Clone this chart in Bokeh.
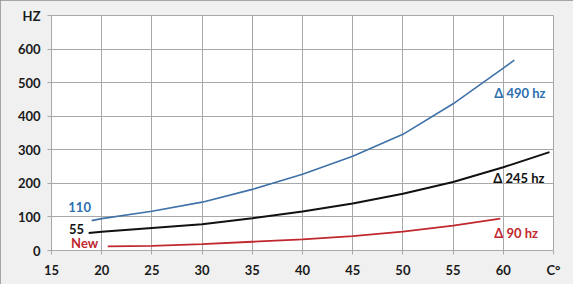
from bokeh.plotting import figure
from bokeh.models import FixedTicker, ColumnDataSource
from bokeh.core.properties import value
from bokeh.embed import file_html
from bokeh.resources import INLINE

# Data
blue_x = [19.0, 20, 25, 30, 35, 40, 45, 50, 55, 60, 61.1]
blue_y = [89, 95, 117, 144, 182, 227, 281, 346, 437, 543, 567]
black_x = [18.7, 20, 25, 30, 35, 40, 45, 50, 55, 60, 64.6]
black_y = [52, 56, 67, 78, 96, 116, 140, 169, 204, 248, 293]
red_x = [20.6, 25, 30, 35, 40, 45, 50, 55, 59.7]
red_y = [12, 14, 19, 26, 33, 43, 56, 74, 95]

x_ticks = [15, 20, 25, 30, 35, 40, 45, 50, 55, 60, 65]
y_ticks = [0, 100, 200, 300, 400, 500, 600, 700]
x_unit_label = "C°"
y_unit_label = "HZ"

series_labels = ["110", "55", "New"]
delta_labels = ["Δ 490 hz", "Δ 245 hz", "Δ 90 hz"]

BLUE = "#3f72a8"
BLUE_TXT = "#2e6fad"
BLACK = "#111111"
RED = "#c0282e"
GRID = "#a8a8a8"
FONT = "Lato"

p = figure(width=573, height=284, output_backend="svg", toolbar_location=None,
           x_range=(15, 65), y_range=(0, 700),
           min_border_left=51, min_border_right=20, min_border_top=15, min_border_bottom=34)
p.border_fill_color = "#f0f0f0"
p.background_fill_color = "white"
p.outline_line_color = GRID
p.outline_line_width = 1
p.styles = {"outline": "2px solid #8e8e8e", "outline-offset": "-2px"}

for ax in (p.xaxis[0], p.yaxis[0]):
    ax.axis_line_color = None
    ax.major_tick_line_color = GRID
    ax.major_tick_in = 0
    ax.major_tick_out = 4
    ax.minor_tick_line_color = None
    ax.major_label_text_font = FONT
    ax.major_label_text_font_style = "bold"
    ax.major_label_text_font_size = "13px"
    ax.major_label_text_color = "#1a1a1a"
    ax.major_label_standoff = 7

p.xaxis.ticker = FixedTicker(ticks=x_ticks)
p.yaxis.ticker = FixedTicker(ticks=y_ticks)
p.xaxis.major_label_overrides = {x_ticks[-1]: x_unit_label}
p.yaxis.major_label_overrides = {y_ticks[-1]: y_unit_label}

p.xgrid.ticker = FixedTicker(ticks=x_ticks)
p.ygrid.ticker = FixedTicker(ticks=y_ticks)
for g in (p.xgrid[0], p.ygrid[0]):
    g.grid_line_color = GRID
    g.grid_line_width = 1

p.line(blue_x, blue_y, line_color=BLUE, line_width=1.6)
p.line(black_x, black_y, line_color=BLACK, line_width=2)
p.line(red_x, red_y, line_color=RED, line_width=1.8)

# label annotations
left_src = ColumnDataSource(dict(x=[17.8, 17.5, 18.3], y=[131, 63, 21],
                                 t=series_labels, c=[BLUE_TXT, BLACK, RED]))
p.text(x="x", y="y", text="t", text_color="c", source=left_src,
       text_font=value(FONT), text_font_style="bold", text_font_size="13px",
       text_align="center", text_baseline="middle")

right_src = ColumnDataSource(dict(x=[59.1, 59.0, 59.1], y=[470, 217, 52],
                                  t=delta_labels, c=[BLUE_TXT, BLACK, RED]))
p.text(x="x", y="y", text="t", text_color="c", source=right_src,
       text_font=value(FONT), text_font_style="bold", text_font_size="13px",
       text_align="left", text_baseline="middle")

open("out.html", "w").write(file_html(p, INLINE))
